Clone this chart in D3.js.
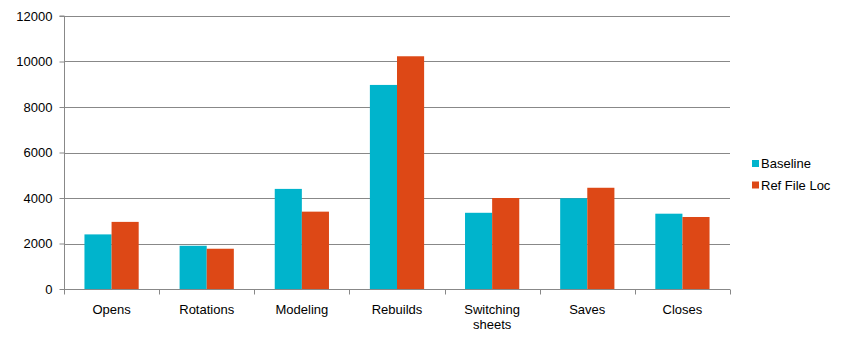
<!DOCTYPE html>
<html><head><meta charset="utf-8">
<script src="https://cdn.jsdelivr.net/npm/d3@7"></script>
<style>body{margin:0;background:#fff}svg{display:block}text{font-family:"Liberation Sans",Arial,sans-serif;font-size:13px;fill:#000}</style>
</head><body><svg id="c" width="846" height="348"></svg>
<script>
const categories = ["Opens","Rotations","Modeling","Rebuilds","Switching sheets","Saves","Closes"];
const seriesNames = ["Baseline","Ref File Loc"];
const baseline = [2400,1900,4400,8970,3350,3990,3310];
const refFileLoc = [2950,1770,3400,10230,4000,4450,3165];
const yTicks = [0,2000,4000,6000,8000,10000,12000];
const colors = ["#00B4CC","#DD4816"];

const svg = d3.select("#c");
const L=64, R=730, T=16, B=289;
const x = d3.scaleBand().domain(categories).range([L,R]).paddingInner(0.43).paddingOuter(0.215);
const xb = d3.scaleBand().domain(categories).range([L,R]);
const y = d3.scaleLinear().domain([0,12000]).range([B,T]);
const xs = d3.scaleBand().domain(seriesNames).range([0,x.bandwidth()]);

// gridlines
svg.append("g").selectAll("line").data(yTicks.slice(1)).join("line")
  .attr("x1",L).attr("x2",R).attr("y1",d=>Math.round(y(d))+0.5).attr("y2",d=>Math.round(y(d))+0.5)
  .attr("stroke","#888").attr("stroke-width",1);

// y axis
const ya = svg.append("g").attr("transform",`translate(${L+0.5},0)`)
  .call(d3.axisLeft(y).tickValues(yTicks).tickSize(5).tickPadding(7).tickFormat(d3.format("d")));
ya.select(".domain").attr("stroke","#888").attr("d",`M-5,${y(12000)}H0V${B+0.5}`);
ya.selectAll(".tick line").attr("stroke","#888");
ya.selectAll("text").style("font-size","13px").attr("fill","#000");

// bars
const data = categories.map((c,i)=>({c, vals:[baseline[i],refFileLoc[i]]}));
const g = svg.append("g");
data.forEach(d=>{
  d.vals.forEach((v,j)=>{
    g.append("rect").attr("x",x(d.c)+xs(seriesNames[j])).attr("width",xs.bandwidth())
      .attr("y",y(v)).attr("height",B-y(v)).attr("fill",colors[j]);
  });
});

// x axis
const xa = svg.append("g").attr("transform",`translate(0,${B+0.5})`);
xa.append("line").attr("x1",L).attr("x2",R).attr("stroke","#888");
const bounds = categories.map(c=>xb(c)).concat([R]);
xa.selectAll(".tk").data(bounds).join("line").attr("class","tk")
  .attr("x1",d=>Math.round(d)+0.5).attr("x2",d=>Math.round(d)+0.5).attr("y1",0).attr("y2",5).attr("stroke","#888");
categories.forEach(c=>{
  const words = c.split(" ");
  const t = xa.append("text").attr("text-anchor","middle").attr("x",xb(c)+xb.bandwidth()/2).attr("y",24.5);
  words.forEach((w,i)=>t.append("tspan").attr("x",xb(c)+xb.bandwidth()/2).attr("dy",i?15:0).text(w));
});

// legend
const lg = svg.append("g");
seriesNames.forEach((s,i)=>{
  lg.append("rect").attr("x",752).attr("y",160+i*21.5).attr("width",7).attr("height",7).attr("fill",colors[i]);
  lg.append("text").attr("x",761).attr("y",168+i*21.5).text(s);
});
</script></body></html>
